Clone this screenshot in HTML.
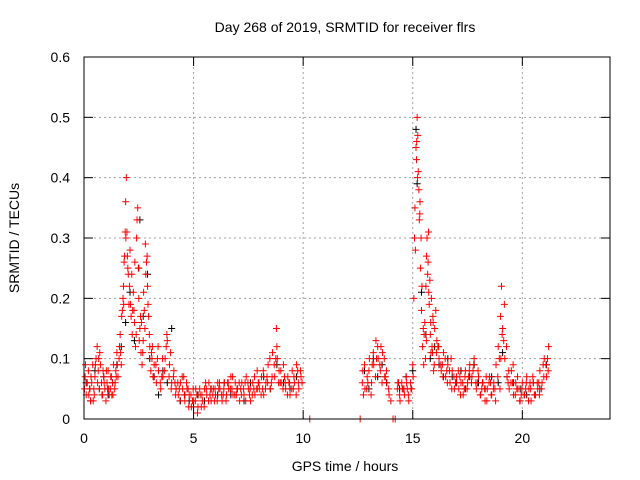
<!DOCTYPE html>
<html><head><meta charset="utf-8"><style>
body{margin:0;background:#fff}
svg{display:block;font-family:"Liberation Sans",sans-serif}
</style></head><body>
<svg id="chart" width="640" height="480" viewBox="0 0 640 480">
<rect width="640" height="480" fill="#fff"/>
<text x="345" y="32" font-size="14" text-anchor="middle">Day 268 of 2019, SRMTID for receiver flrs</text>
<text x="345" y="471" font-size="14" text-anchor="middle">GPS time / hours</text>
<text x="19" y="238" font-size="14" text-anchor="middle" transform="rotate(-90 19 238)">SRMTID / TECUs</text>
<g id="grid"></g>
<g id="ticks"></g>
<g id="black"></g>
<g id="red"></g>
<rect x="84" y="57" width="526" height="362" fill="none" stroke="#000" stroke-width="1"/>
</svg>
<script>
const xTicks=[0,5,10,15,20];
const yTicks=[0,0.1,0.2,0.3,0.4,0.5,0.6];
const yTickLabels=["0","0.1","0.2","0.3","0.4","0.5","0.6"];
const redTimes=[0.05,0.1,0.15,0.2,0.25,0.3,0.35,0.4,0.45,0.5,0.55,0.6,0.65,0.7,0.75,0.8,0.85,0.9,0.95,1.0,1.05,1.1,1.15,1.2,1.25,1.3,1.35,1.4,1.45,1.5,1.55,1.6,1.65,1.7,1.75,1.8,1.85,1.9,1.93,1.96,2.0,2.05,2.1,2.15,2.2,2.25,2.3,2.35,2.4,2.45,2.5,2.55,2.6,2.65,2.7,2.75,2.8,2.85,2.9,2.95,3.0,3.05,3.1,3.15,3.2,3.3,3.4,3.5,3.6,3.7,3.8,3.9,4.0,4.1,4.2,4.3,4.4,4.5,4.6,4.7,4.8,4.9,5.0,5.1,5.2,5.3,5.4,5.5,5.6,5.7,5.8,5.9,6.0,6.1,6.2,6.3,6.4,6.5,6.6,6.7,6.8,6.9,7.0,7.1,7.2,7.3,7.4,7.5,7.6,7.7,7.8,7.9,8.0,8.1,8.2,8.3,8.4,8.5,8.6,8.7,8.8,8.9,9.0,9.1,9.2,9.3,9.4,9.5,9.6,9.7,9.8,9.9,10.3,12.6,12.7,12.8,12.9,13.0,13.1,13.2,13.3,13.4,13.5,13.6,13.7,13.8,13.9,14.0,14.1,14.2,14.3,14.4,14.5,14.6,14.7,14.8,14.9,15.0,15.05,15.1,15.15,15.2,15.25,15.3,15.35,15.4,15.45,15.5,15.55,15.6,15.65,15.7,15.75,15.8,15.85,15.9,15.95,16.0,16.05,16.1,16.2,16.3,16.4,16.5,16.6,16.7,16.8,16.9,17.0,17.1,17.2,17.3,17.4,17.5,17.6,17.7,17.8,17.9,18.0,18.1,18.2,18.3,18.4,18.5,18.6,18.7,18.8,18.9,19.0,19.05,19.1,19.2,19.3,19.4,19.5,19.6,19.7,19.8,19.9,20.0,20.1,20.2,20.3,20.4,20.5,20.6,20.7,20.8,20.9,21.0,21.1,21.2];
const redValues=[0.07,0.04,0.06,0.08,0.05,0.03,0.06,0.09,0.05,0.07,0.10,0.12,0.08,0.05,0.09,0.06,0.04,0.07,0.05,0.03,0.06,0.08,0.04,0.05,0.07,0.06,0.09,0.05,0.08,0.11,0.07,0.10,0.14,0.09,0.18,0.22,0.27,0.36,0.40,0.31,0.25,0.19,0.28,0.17,0.14,0.21,0.16,0.12,0.30,0.35,0.20,0.15,0.11,0.09,0.13,0.18,0.29,0.26,0.22,0.17,0.12,0.08,0.10,0.07,0.09,0.06,0.08,0.05,0.07,0.10,0.13,0.09,0.06,0.08,0.05,0.04,0.06,0.05,0.03,0.05,0.04,0.02,0.03,0.05,0.02,0.04,0.03,0.05,0.04,0.06,0.03,0.05,0.04,0.06,0.05,0.03,0.06,0.04,0.05,0.07,0.04,0.06,0.05,0.03,0.06,0.04,0.07,0.05,0.03,0.06,0.04,0.08,0.05,0.07,0.04,0.06,0.09,0.05,0.11,0.07,0.12,0.08,0.06,0.09,0.05,0.07,0.04,0.08,0.06,0.09,0.05,0.07,0.0,0.0,0.06,0.09,0.05,0.08,0.04,0.11,0.07,0.12,0.09,0.06,0.10,0.08,0.05,0.03,0.0,0.0,0.05,0.04,0.06,0.05,0.07,0.04,0.06,0.09,0.20,0.35,0.45,0.50,0.41,0.33,0.25,0.18,0.12,0.09,0.16,0.22,0.30,0.26,0.19,0.14,0.20,0.11,0.08,0.15,0.18,0.13,0.10,0.08,0.11,0.07,0.09,0.06,0.08,0.05,0.07,0.05,0.06,0.04,0.08,0.06,0.09,0.07,0.10,0.05,0.07,0.04,0.06,0.03,0.05,0.07,0.04,0.06,0.09,0.12,0.17,0.22,0.15,0.10,0.07,0.05,0.08,0.04,0.06,0.05,0.03,0.06,0.04,0.07,0.05,0.03,0.06,0.04,0.05,0.08,0.06,0.10,0.07,0.12];
const red2Times=[0.02,0.12,0.22,0.32,0.42,0.52,0.62,0.72,0.82,0.92,1.02,1.12,1.22,1.32,1.42,1.52,1.62,1.72,1.78,1.83,1.88,1.98,2.08,2.12,2.18,2.28,2.38,2.42,2.48,2.58,2.68,2.78,2.82,2.88,2.98,3.08,3.18,3.28,3.38,3.48,3.58,3.68,3.78,3.88,3.98,4.08,4.18,4.28,4.38,4.48,4.58,4.68,4.78,4.88,4.98,5.08,5.18,5.28,5.38,5.48,5.58,5.68,5.78,5.88,5.98,6.08,6.18,6.28,6.38,6.48,6.58,6.68,6.78,6.88,6.98,7.08,7.18,7.28,7.38,7.48,7.58,7.68,7.78,7.88,7.98,8.08,8.18,8.28,8.38,8.48,8.58,8.68,8.78,8.82,8.88,8.98,9.08,9.18,9.28,9.38,9.48,9.58,9.68,9.78,9.88,12.72,12.82,12.92,13.02,13.12,13.22,13.32,13.42,13.52,13.62,13.72,13.82,13.92,14.32,14.42,14.52,14.62,14.72,14.82,14.92,15.02,15.12,15.18,15.22,15.28,15.32,15.38,15.42,15.48,15.58,15.62,15.68,15.72,15.78,15.82,15.88,15.92,15.98,16.08,16.18,16.28,16.38,16.48,16.58,16.68,16.78,16.88,16.98,17.08,17.18,17.28,17.38,17.48,17.58,17.68,17.78,17.88,17.98,18.08,18.18,18.28,18.38,18.48,18.58,18.68,18.78,18.88,18.98,19.02,19.08,19.18,19.28,19.38,19.48,19.58,19.68,19.78,19.88,19.98,20.08,20.18,20.28,20.38,20.48,20.58,20.68,20.78,20.88,20.98,21.08,21.18];
const red2Values=[0.05,0.06,0.04,0.07,0.03,0.09,0.06,0.11,0.04,0.06,0.08,0.05,0.07,0.04,0.06,0.09,0.12,0.17,0.20,0.26,0.31,0.27,0.22,0.19,0.24,0.18,0.14,0.33,0.25,0.17,0.11,0.15,0.24,0.27,0.14,0.11,0.07,0.09,0.12,0.06,0.10,0.08,0.14,0.07,0.05,0.07,0.04,0.06,0.03,0.07,0.04,0.06,0.02,0.04,0.05,0.03,0.01,0.05,0.04,0.02,0.05,0.03,0.05,0.04,0.05,0.03,0.06,0.04,0.05,0.03,0.06,0.05,0.07,0.04,0.05,0.06,0.04,0.05,0.03,0.06,0.05,0.04,0.07,0.05,0.06,0.04,0.08,0.05,0.06,0.10,0.07,0.09,0.15,0.10,0.06,0.08,0.05,0.06,0.04,0.06,0.05,0.07,0.04,0.06,0.08,0.08,0.05,0.07,0.10,0.06,0.09,0.13,0.10,0.08,0.11,0.07,0.06,0.04,0.06,0.03,0.05,0.04,0.06,0.03,0.05,0.07,0.28,0.46,0.40,0.38,0.34,0.30,0.22,0.15,0.10,0.13,0.24,0.31,0.23,0.16,0.12,0.17,0.09,0.11,0.12,0.09,0.07,0.10,0.06,0.08,0.05,0.07,0.06,0.08,0.04,0.06,0.07,0.05,0.08,0.06,0.09,0.06,0.08,0.04,0.06,0.05,0.03,0.06,0.04,0.05,0.03,0.07,0.05,0.10,0.14,0.19,0.12,0.08,0.06,0.09,0.04,0.07,0.03,0.05,0.04,0.06,0.03,0.05,0.07,0.04,0.06,0.04,0.05,0.07,0.09,0.08,0.11];
const red3Times=[0.07,0.27,0.47,0.67,0.87,1.07,1.27,1.47,1.67,1.81,1.91,2.02,2.22,2.32,2.52,2.62,2.72,2.92,3.12,3.35,3.55,3.75,3.95,4.15,4.35,4.55,4.75,4.95,5.15,5.35,5.55,5.75,5.95,6.15,6.35,6.55,6.75,6.95,7.15,7.35,7.55,7.75,7.95,8.15,8.35,8.55,8.75,8.95,9.15,9.35,9.55,9.75,9.95,12.75,12.95,13.15,13.35,13.55,13.75,14.35,14.55,14.75,14.95,15.08,15.17,15.23,15.33,15.52,15.63,15.73,15.83,15.93,16.15,16.35,16.55,16.75,16.95,17.15,17.35,17.55,17.75,17.95,18.15,18.35,18.55,18.75,18.95,19.15,19.35,19.55,19.75,19.95,20.15,20.35,20.55,20.75,20.95,21.15];
const red3Values=[0.09,0.05,0.04,0.10,0.08,0.05,0.04,0.07,0.11,0.19,0.30,0.24,0.18,0.26,0.13,0.16,0.21,0.19,0.12,0.10,0.07,0.12,0.11,0.06,0.05,0.07,0.05,0.03,0.04,0.02,0.06,0.04,0.03,0.05,0.04,0.06,0.05,0.04,0.05,0.06,0.04,0.05,0.06,0.05,0.07,0.06,0.10,0.06,0.07,0.06,0.05,0.08,0.06,0.04,0.06,0.09,0.10,0.12,0.07,0.06,0.05,0.05,0.05,0.30,0.43,0.47,0.36,0.14,0.27,0.21,0.11,0.16,0.12,0.09,0.08,0.10,0.06,0.07,0.05,0.07,0.08,0.06,0.05,0.07,0.06,0.05,0.10,0.13,0.06,0.06,0.05,0.04,0.05,0.06,0.04,0.06,0.09,0.10];
const blackTimes=[0.1,0.3,0.5,0.7,0.9,1.1,1.3,1.5,1.7,1.9,2.1,2.3,2.5,2.55,2.7,2.9,3.0,3.2,3.4,3.6,3.8,4.0,4.2,4.4,4.6,4.8,5.0,5.2,5.5,5.8,6.1,6.4,6.7,7.0,7.3,7.6,7.9,8.2,8.5,8.8,9.1,9.4,9.7,12.8,13.0,13.2,13.4,13.6,13.8,14.4,14.7,15.0,15.15,15.2,15.4,15.6,15.8,16.0,16.2,16.4,16.6,16.8,17.0,17.2,17.4,17.6,17.8,18.0,18.3,18.6,18.9,19.1,19.3,19.6,19.9,20.2,20.5,20.8,21.1];
const blackValues=[0.06,0.03,0.08,0.05,0.07,0.04,0.06,0.09,0.12,0.16,0.21,0.13,0.25,0.33,0.17,0.24,0.10,0.07,0.04,0.08,0.06,0.15,0.05,0.03,0.04,0.03,0.02,0.04,0.03,0.05,0.04,0.06,0.04,0.05,0.03,0.06,0.05,0.07,0.05,0.09,0.06,0.05,0.07,0.08,0.05,0.10,0.07,0.09,0.06,0.05,0.07,0.08,0.48,0.39,0.21,0.14,0.10,0.12,0.09,0.07,0.10,0.07,0.06,0.08,0.05,0.07,0.09,0.06,0.05,0.07,0.06,0.11,0.07,0.06,0.05,0.04,0.06,0.05,0.09];

const X0=84,X1=610,Y0=419,Y1=57,XMAX=24,YMAX=0.6;
const xs=t=>X0+(X1-X0)*t/XMAX;
const ys=v=>Y0-(Y0-Y1)*v/YMAX;
const NS="http://www.w3.org/2000/svg";
const mk=(tag,attrs,parent)=>{const e=document.createElementNS(NS,tag);for(const k in attrs)e.setAttribute(k,attrs[k]);parent.appendChild(e);return e;};
const grid=document.getElementById('grid'),ticks=document.getElementById('ticks');
yTicks.forEach((v,i)=>{
  const y=ys(v);
  if(i>0&&i<yTicks.length-1){const g=mk('line',{x1:X0,x2:X1,y1:y,y2:y,stroke:'#a0a0a0','stroke-dasharray':'2,3'},grid);
  
  }
  mk('line',{x1:X0,x2:X0+9,y1:y,y2:y,stroke:'#000'},ticks);
  mk('line',{x1:X1-9,x2:X1,y1:y,y2:y,stroke:'#000'},ticks);
  const t=mk('text',{x:70,y:y+5,'font-size':14,'text-anchor':'end'},ticks);
  t.textContent=yTickLabels[i];
  
  
});
xTicks.forEach((v,i)=>{
  const x=xs(v);
  if(i>0){const g=mk('line',{x1:x,x2:x,y1:Y0,y2:Y1,stroke:'#a0a0a0','stroke-dasharray':'2,3'},grid);
  
  }
  mk('line',{x1:x,x2:x,y1:Y0,y2:Y0-9,stroke:'#000'},ticks);
  mk('line',{x1:x,x2:x,y1:Y1,y2:Y1+9,stroke:'#000'},ticks);
  const t=mk('text',{x:x,y:443,'font-size':14,'text-anchor':'middle'},ticks);
  t.textContent=String(v);
  
  
});
function plot(times,vals,g,color){
  times.forEach((t,i)=>{
    const x=xs(t),y=ys(vals[i]);
    const p=mk('path',{d:`M${x-3.5},${y}h7M${x},${y-3.5}v7`,stroke:color,'stroke-width':1,fill:'none'},g);
    
    
  });
}
plot(blackTimes,blackValues,document.getElementById('black'),'#000');
plot(redTimes,redValues,document.getElementById('red'),'#f00');
plot(red2Times,red2Values,document.getElementById('red'),'#f00');
plot(red3Times,red3Values,document.getElementById('red'),'#f00');
</script>
</body></html>
